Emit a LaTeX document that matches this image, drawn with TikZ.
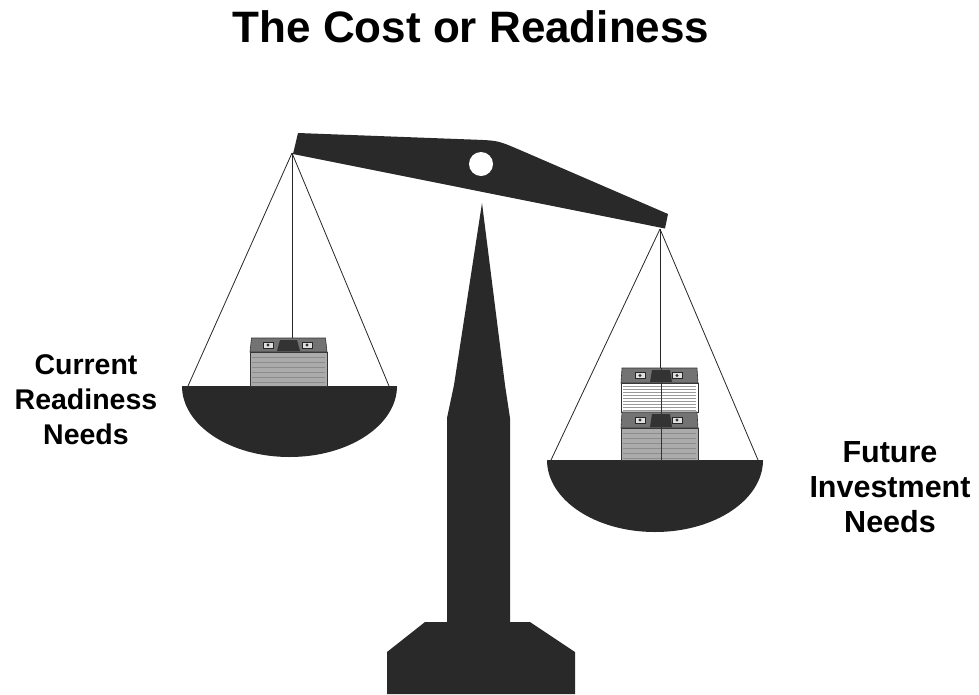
\documentclass[tikz,border=0pt]{standalone}
\usepackage{fontspec}
\setmainfont{Liberation Sans}
\begin{document}
\begin{tikzpicture}[x=1pt,y=-1pt,
  ink/.style={fill=black!84,draw=none},
  cord/.style={draw=black!85,line width=0.8pt},
  title/.style={font=\fontsize{44}{50}\selectfont\bfseries,inner sep=0pt},
  label/.style={font=\fontsize{28.5}{35}\selectfont\bfseries,align=center,inner sep=0pt},
  widelabel/.style={label,font=\fontsize{30.5}{35}\selectfont\bfseries},
  band/.style={fill=black!55,draw=black!80,line width=0.6pt},
  bill/.style={fill=black!33,draw=black!80,line width=0.6pt},
  edges/.style={fill=white,draw=black!80,line width=0.6pt},
  eye/.style={fill=black!12,draw=black!85,line width=0.8pt}]
\useasboundingbox (0,0) rectangle (979,694);

% title
\node[title,anchor=base] (title) at (471,42) {The Cost or Readiness};

% stand: spike, column and foot
\fill[ink] (482,203) -- (454,385) -- (447,418) -- (447,622) -- (425,622)
  -- (387,652) -- (387,694) -- (575,694) -- (575,652) -- (530,622)
  -- (510,622) -- (510,418) -- (505,385) -- cycle;

% beam with pivot hole
\fill[ink] (298,133) -- (476,139.7) .. controls (498,140.6) .. (520,150)
  -- (668,214) -- (665,228.5) -- (293,154) -- cycle;
\fill[white] (481,164) circle (12);
\coordinate (lhook) at (292,153);
\coordinate (rhook) at (660,229);

% left cords and pan
\coordinate (lpanL) at (188,386);
\coordinate (lpanR) at (389,386);
\coordinate (lload) at (292,338);
\draw[cord] (lhook) -- (lpanL);
\draw[cord] (lhook) -- (lpanR);
\draw[cord] (lhook) -- (lload);
\fill[ink] (182,386) -- (397,386) arc[start angle=0,end angle=180,x radius=107.5,y radius=71] -- cycle;

% right cords and pan
\coordinate (rpanL) at (551,460);
\coordinate (rpanR) at (758,460);
\coordinate (rload) at (660,368);
\draw[cord] (rhook) -- (rpanL);
\draw[cord] (rhook) -- (rpanR);
\draw[cord] (rhook) -- (rload);
\fill[ink] (547,460) -- (763,460) arc[start angle=0,end angle=180,x radius=108,y radius=72] -- cycle;

% single bundle of bills on the left pan
\draw[bill] (250,352) rectangle (327,386);
\foreach \yy in {357,362,...,382} \draw[black!45,line width=0.3pt] (252,\yy) -- (325,\yy);
\draw[band] (251.5,338) -- (325.5,338) -- (327,352) -- (250,352) -- cycle;
\fill[black!80] (280,340) -- (297,340) -- (300,351) -- (277,351) -- cycle;
\foreach \ex in {268,307} {
  \draw[eye] (\ex-5,342) rectangle (\ex+5,348);
  \fill[black!80] (\ex,345) circle (1.6);
}

% double stack of bills on the right pan
\draw[bill] (621,428) rectangle (698,460);
\foreach \yy in {433,438,...,458} \draw[black!45,line width=0.3pt] (623,\yy) -- (696,\yy);
\draw[edges] (621,383) rectangle (698,412);
\foreach \yy in {386,389,...,410} \draw[black!40,line width=0.3pt] (623,\yy) -- (696,\yy);
\foreach \top/\bot in {368/383,412/428} {
  \draw[band] (622,\top) -- (697,\top) -- (698,\bot) -- (621,\bot) -- cycle;
  \fill[black!80] (652,\top+2) -- (670,\top+2) -- (672,\bot-1) -- (650,\bot-1) -- cycle;
  \foreach \ex in {640,677} {
    \draw[eye] (\ex-5,{(\top+\bot)/2-3}) rectangle (\ex+5,{(\top+\bot)/2+3});
    \fill[black!80] (\ex,{(\top+\bot)/2}) circle (1.6);
  }
}
\draw[black!80,line width=0.6pt] (661,368) -- (661,460);

% captions
\node[label] (current) at (86,400) {Current\\Readiness\\Needs};
\node[widelabel] (future) at (890,487) {Future\\Investment\\Needs};
\end{tikzpicture}
\end{document}
